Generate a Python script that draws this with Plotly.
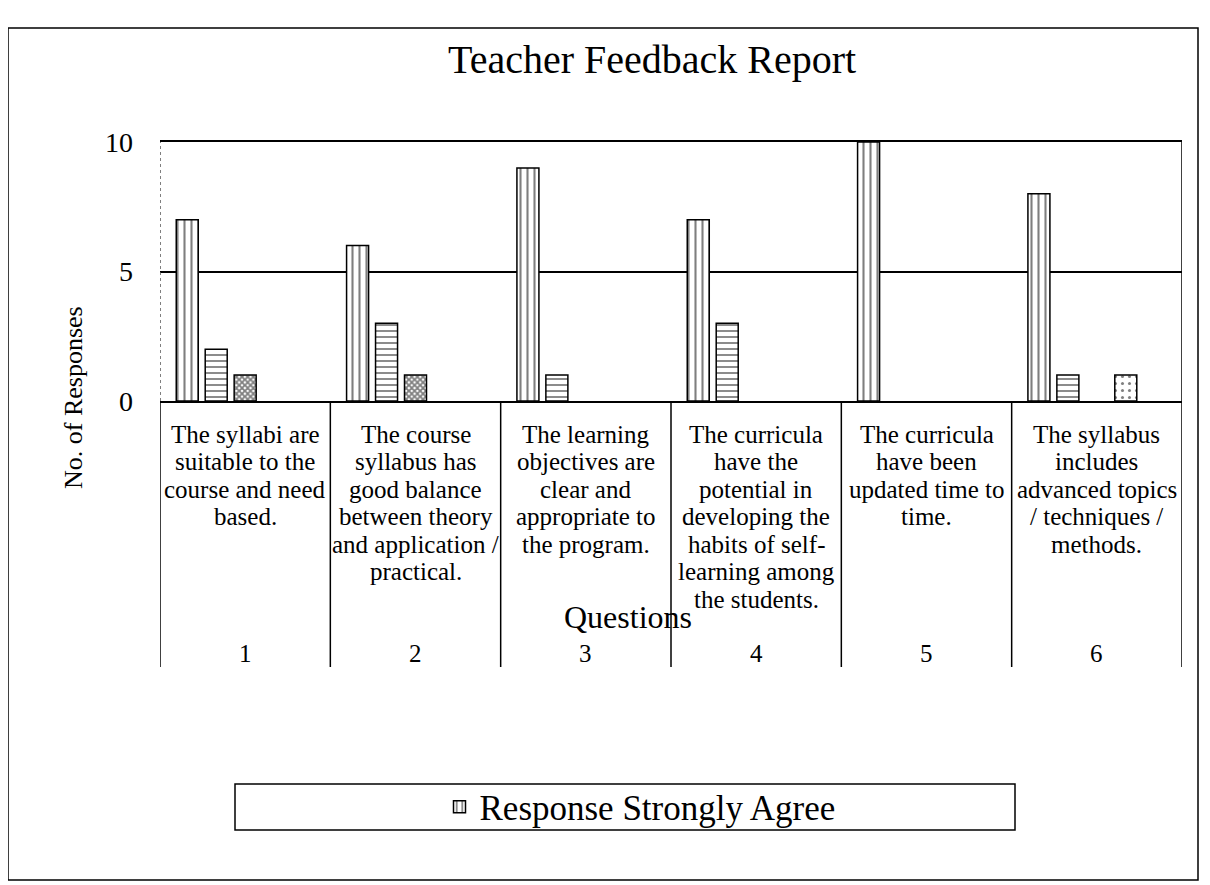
import plotly.graph_objects as go

questions = [
    "The syllabi are<br>suitable to the<br>course and need<br>based.",
    "The course<br>syllabus has<br>good balance<br>between theory<br>and application /<br>practical.",
    "The learning<br>objectives are<br>clear and<br>appropriate to<br>the program.",
    "The curricula<br>have the<br>potential in<br>developing the<br>habits of self-<br>learning among<br>the students.",
    "The curricula<br>have been<br>updated time to<br>time.",
    "The syllabus<br>includes<br>advanced topics<br>/ techniques /<br>methods.",
]
question_numbers = ["1", "2", "3", "4", "5", "6"]

strongly_agree = [7, 6, 9, 7, 10, 8]
agree = [2, 3, 1, 3, 0, 1]
neutral = [1, 1, 0, 0, 0, 0]
disagree = [0, 0, 0, 0, 0, 1]
strongly_disagree = [0, 0, 0, 0, 0, 0]

series = [
    ("Response Strongly Agree", strongly_agree, "|", 7, 0.3, True),
    ("Response Agree", agree, "-", 6, 0.3, False),
    ("Response Neutral", neutral, "x", 4, 0.7, False),
    ("Response Disagree", disagree, ".", 7, 0.15, False),
    ("Response Strongly Disagree", strongly_disagree, "", 6, 0.3, False),
]

FONT = "Liberation Serif, Times New Roman, serif"
xs = list(range(len(questions)))

# pixel helpers (viewport coordinates; the page body adds an 8px offset)
PL, PR, PT, PB = 160, 1182, 142, 401


def px(X):
    return (X - PL) / (PR - PL)


def py(Y):
    return (PB - Y) / (PB - PT)


fig = go.Figure()
for name, vals, shape, size, sol, show in series:
    fig.add_trace(go.Bar(
        x=xs, y=[v if v else None for v in vals], name=name, showlegend=show,
        marker=dict(color="white", line=dict(color="black", width=1.5),
                    pattern=dict(shape=shape, fgcolor="black", bgcolor="white",
                                 size=size, solidity=sol, fillmode="overlay")),
    ))

shapes = []
for b in [i - 0.5 for i in range(len(questions) + 1)]:
    shapes.append(dict(type="line", xref="x", yref="paper", x0=b, x1=b, y0=0, y1=py(667),
                       line=dict(color="black", width=1.5)))
shapes.append(dict(type="line", xref="x", yref="paper", x0=-0.5, x1=-0.5, y0=0, y1=1,
                   line=dict(color="#555", width=1.5, dash="dot")))
shapes.append(dict(type="line", xref="x", yref="paper", x0=5.5, x1=5.5, y0=0, y1=1,
                   line=dict(color="black", width=1.5)))
shapes.append(dict(type="rect", xref="paper", yref="paper", x0=px(235), x1=px(1015),
                   y0=py(830), y1=py(784), line=dict(color="black", width=1.5)))
shapes.append(dict(type="rect", xref="paper", yref="paper", x0=px(8), x1=px(1198),
                   y0=py(880), y1=py(28), line=dict(color="black", width=1.5)))

annotations = []
for i, q in enumerate(questions):
    for j, line in enumerate(q.split("<br>")):
        annotations.append(dict(x=xs[i], y=py(434 + 27.5 * j), xref="x", yref="paper",
                                text=line, showarrow=False, yanchor="middle",
                                font=dict(family=FONT, size=25, color="black")))
for i, n in enumerate(question_numbers):
    annotations.append(dict(x=xs[i], y=py(653), xref="x", yref="paper", text=n,
                            showarrow=False, yanchor="middle",
                            font=dict(family=FONT, size=25, color="black")))
annotations.append(dict(x=px(628), y=py(617), xref="paper", yref="paper", text="Questions",
                        showarrow=False, yanchor="middle", xanchor="center",
                        font=dict(family=FONT, size=32, color="black")))
annotations.append(dict(x=px(73), y=py(398), xref="paper", yref="paper", text="No. of Responses",
                        textangle=-90, showarrow=False, xanchor="center", yanchor="middle",
                        font=dict(family=FONT, size=26, color="black")))
annotations.append(dict(x=px(652), y=py(60), xref="paper", yref="paper",
                        text="Teacher Feedback Report", showarrow=False, yanchor="middle",
                        xanchor="center",
                        font=dict(family=FONT, size=40, color="black")))

fig.update_layout(
    width=1202, height=877,
    margin=dict(l=152, r=28, t=134, b=484),
    paper_bgcolor="white", plot_bgcolor="white",
    barmode="group", bargap=0.15, bargroupgap=0.24,
    xaxis=dict(tickmode="array", tickvals=xs, ticktext=["" for _ in xs], range=[-0.5, 5.5],
               showline=True, mirror=True, linecolor="black", linewidth=1.5,
               showgrid=False, ticks=""),
    yaxis=dict(range=[0, 10], tickvals=[0, 5, 10], showgrid=True, gridcolor="black",
               gridwidth=1.5, zeroline=False, showline=False, ticks="",
               ticklabelstandoff=26, tickfont=dict(family=FONT, size=28, color="black")),
    legend=dict(orientation="h", x=px(640), y=py(807), xanchor="center", yanchor="middle",
                font=dict(family=FONT, size=35, color="black"), bgcolor="rgba(0,0,0,0)"),
    shapes=shapes, annotations=annotations,
)

fig.write_html("out.html")
